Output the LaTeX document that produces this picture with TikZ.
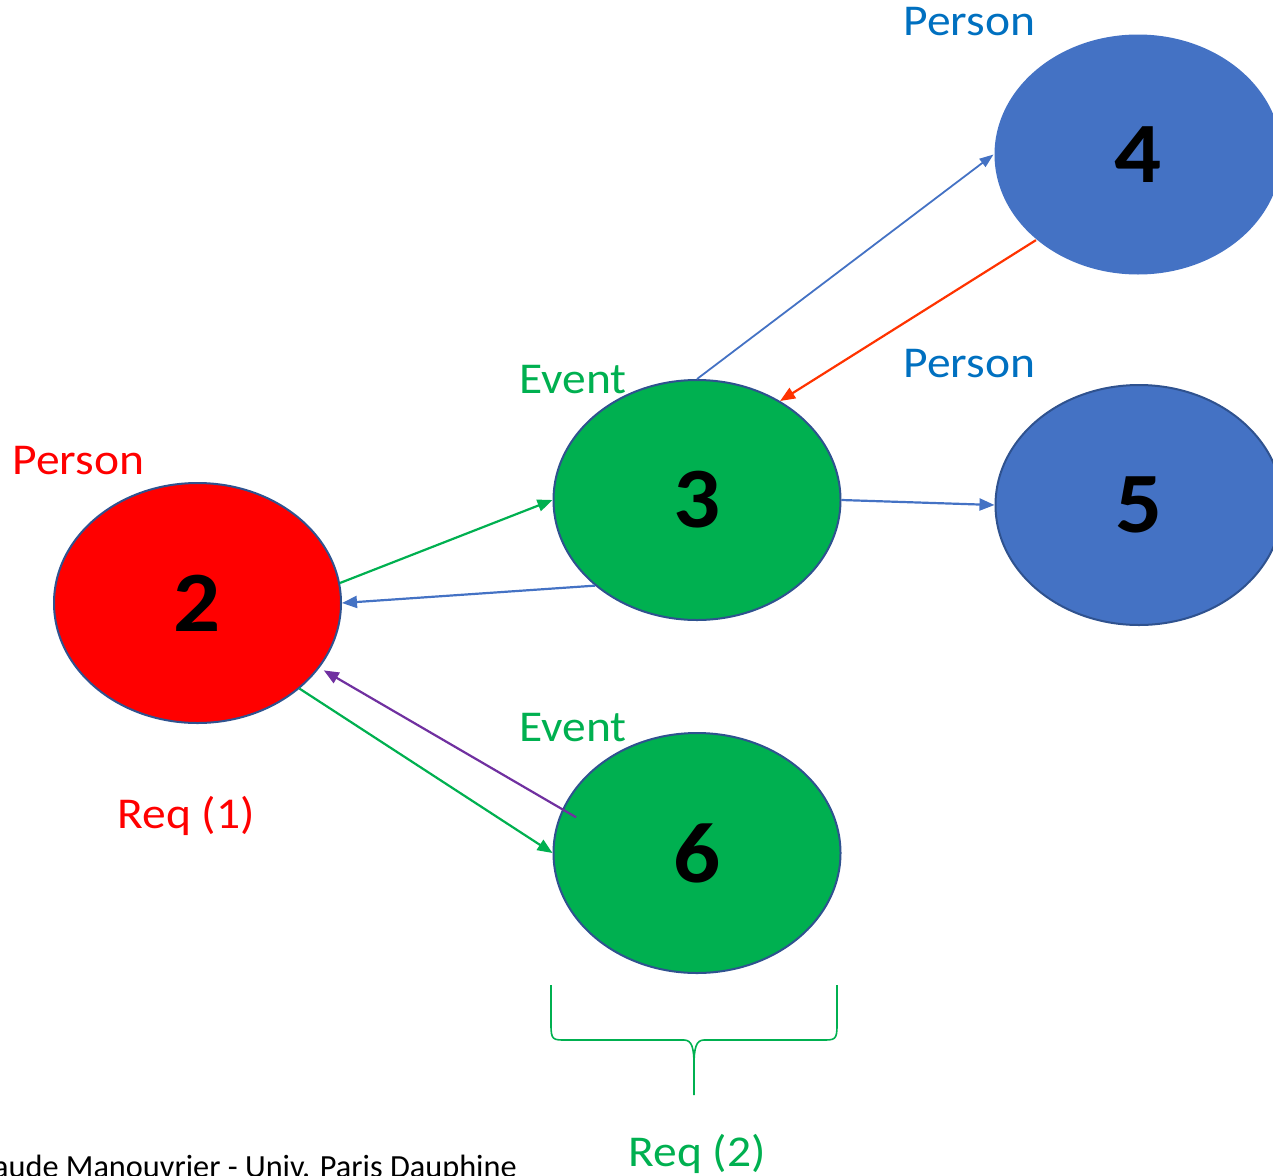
\documentclass[tikz,border=0pt]{standalone}
\usepackage{fontspec}
\setmainfont{Carlito}
\newfontfamily\lblfont[FakeStretch=1.08]{Carlito}
\usetikzlibrary{arrows.meta,shapes.geometric}

\definecolor{cRed}{HTML}{FF0000}
\definecolor{cGreen}{HTML}{00B050}
\definecolor{cBlue}{HTML}{4472C4}
\definecolor{cEdge}{HTML}{2F528F}
\definecolor{cLabelBlue}{HTML}{0070C0}
\definecolor{cOrange}{HTML}{FF3300}
\definecolor{cPurple}{HTML}{7030A0}

\tikzset{
  entity/.style={ellipse, minimum width=287pt, minimum height=240pt, inner sep=0pt,
    draw=cEdge, line width=2pt,
    font=\lblfont\bfseries\fontsize{86}{86}\selectfont, text=black},
  tag/.style={anchor=base, inner sep=0pt, font=\lblfont\fontsize{44}{50}\selectfont},
  link/.style={line width=2.2pt, -{Triangle[length=15pt,width=12pt]}},
  thinlink/.style={line width=1.8pt, -{Triangle[length=14pt,width=10pt]}},
}

\begin{document}
\begin{tikzpicture}[x=1pt, y=-1pt]
  \useasboundingbox (0,0) rectangle (1273,1175);
  \clip (0,0) rectangle (1273,1175);

  % entities
  \node[entity, fill=cRed]   (n2) at (197.5,603) {2};
  \node[entity, fill=cGreen] (n3) at (697,500)   {3};
  \node[entity, fill=cGreen] (n6) at (697,853)   {6};
  \node[entity, fill=cBlue, draw=none] (n4) at (1138,154.5) {4};
  \node[entity, fill=cBlue]  (n5) at (1139,505)  {5};

  % type labels
  \node[tag, text=cRed]       (t2) at (78.5,474)  {Person};
  \node[tag, text=cGreen]     (t3) at (573,393)   {Event};
  \node[tag, text=cGreen]     (t6) at (573,741)   {Event};
  \node[tag, text=cLabelBlue] (t4) at (969.5,35)  {Person};
  \node[tag, text=cLabelBlue] (t5) at (969.5,377) {Person};

  % requests
  \node[tag, text=cRed]   (r1) at (186,828)  {Req (1)};
  \node[tag, text=cGreen] (r2) at (697,1166) {Req (2)};

  % relations
  \draw[link, cGreen]  (n2.8)   -- (n3.180);
  \draw[link, cBlue]   (n3.220) -- (n2.0);
  \draw[link, cGreen]  (n2.-40) -- (n6.180);
  \draw[link, cPurple, shorten <=-16pt, shorten >=5pt] (n6.162) -- (n2.-28);
  \draw[thinlink, cBlue]   (n3.90)  -- (n4.180);
  \draw[link, cOrange] (n4.220) -- (n3.50);
  \draw[link, cBlue]   (n3.0)   -- (n5.180);

  % brace under node 6
  \draw[cGreen, line width=1.6pt]
    (551,985) -- (551,1025) .. controls (551,1040) and (553,1040) .. (566,1040)
    -- (684,1040) .. controls (692,1040) and (694,1048) .. (694,1066) -- (694,1095);
  \draw[cGreen, line width=1.6pt]
    (837,985) -- (837,1025) .. controls (837,1040) and (835,1040) .. (822,1040)
    -- (704,1040) .. controls (696,1040) and (694,1048) .. (694,1066);

  % footer
  \node[anchor=base east, inner sep=0pt, font=\fontsize{32.3}{36}\selectfont, text=black]
    (foot) at (517,1177) {Claude Manouvrier - Univ. Paris Dauphine};
\end{tikzpicture}
\end{document}
